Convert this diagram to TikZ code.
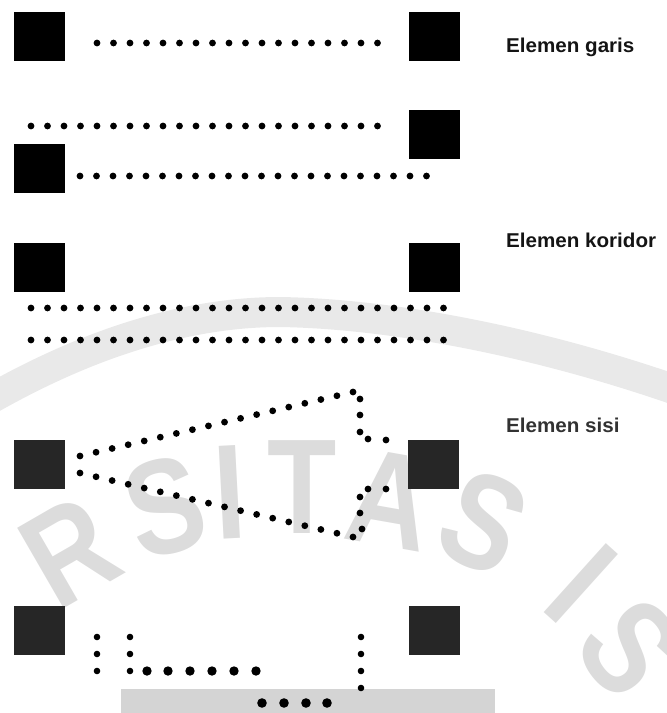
\documentclass[tikz,border=0pt]{standalone}
\usepackage{fontspec}
\newfontfamily\lblfont[FakeStretch=1.03]{Liberation Sans}
\newfontfamily\wmfont[FakeStretch=0.84]{Liberation Sans Bold}
\usetikzlibrary{calc}
\definecolor{wm}{RGB}{220,220,220}
\definecolor{wmband}{RGB}{233,233,233}
\definecolor{wmrect}{RGB}{212,212,212}
\definecolor{blkA}{RGB}{0,0,0}
\definecolor{blkB}{RGB}{38,38,38}
\definecolor{lblc}{RGB}{20,20,20}
\definecolor{lblg}{RGB}{50,50,50}
\tikzset{
  blk/.style={fill=blkA, draw=none, inner sep=0pt, minimum width=51pt, minimum height=49pt},
  blkg/.style={blk, fill=blkB},
  lbl/.style={anchor=base west, inner sep=0pt, text=lblc, font=\lblfont\bfseries\fontsize{20}{22}\selectfont},
  wmletter/.style={text=wm, inner sep=0pt, font=\wmfont\fontsize{135}{135}\selectfont},
  dotc/.style={fill=black},
}
\newcommand\dotline[4]{\foreach \i in {0,...,#3}{\fill[#4] ($(#1)!{\i/#3}!(#2)$) circle (3.4pt);}}
\begin{document}
\begin{tikzpicture}[x=1pt,y=-1pt]
\useasboundingbox (0,0) rectangle (667,713);
% ---- watermark ----
\begin{scope}
\clip (0,0) rectangle (667,713);
\draw[wmband, line width=30pt] (-20,405) .. controls (100,335) and (200,312) .. (280,312) .. controls (400,314) and (550,345) .. (690,395);
\node[wmletter, rotate=30] (wR) at (70,552) {R};
\node[wmletter, rotate=15] (wS1) at (165,507) {S};
\node[wmletter, rotate=3] (wI1) at (230,492) {I};
\node[wmletter] (wT) at (302,487) {T};
\node[wmletter, rotate=-10] (wA) at (390,500) {A};
\node[wmletter, rotate=-25] (wS2) at (483,522) {S};
\node[wmletter, rotate=-42] (wI2) at (581,584) {I};
\node[wmletter, rotate=-52] (wS3) at (630,648) {S};
\fill[wmrect] (121,689) rectangle (495,713);
\end{scope}
% ---- squares ----
\node[blk] (a1) at (39.5,36.5) {};
\node[blk] (b1) at (434.5,36.5) {};
\node[blk] (b2) at (434.5,134.5) {};
\node[blk] (a2) at (39.5,168) {};
\node[blk] (a3) at (39.5,267.5) {};
\node[blk] (b3) at (434.5,267.5) {};
\node[blkg] (a4) at (39.5,464.5) {};
\node[blkg] (b4) at (433.5,464.5) {};
\node[blkg] (a5) at (39.5,630) {};
\node[blkg] (b5) at (434.5,630) {};
% ---- labels ----
\node[lbl] (t1) at (506,52) {Elemen garis};
\node[lbl] (t2) at (506,247) {Elemen koridor};
\node[lbl, text=lblg] (t3) at (506,432) {Elemen sisi};
% ---- dotted lines ----
\coordinate (p1a) at (97,43);   \coordinate (p1b) at (377.5,43);
\coordinate (p2a) at (31,126);  \coordinate (p2b) at (377.5,126);
\coordinate (p3a) at (80,176);  \coordinate (p3b) at (426.5,176);
\coordinate (p4a) at (31,308);  \coordinate (p4b) at (443.5,308);
\coordinate (p5a) at (31,340);  \coordinate (p5b) at (443.5,340);
\coordinate (u0) at (80,456);   \coordinate (u1) at (353,392);
\coordinate (l0) at (80,473);   \coordinate (l1) at (353,537);
\dotline{p1a}{p1b}{17}{dotc}
\dotline{p2a}{p2b}{21}{dotc}
\dotline{p3a}{p3b}{21}{dotc}
\dotline{p4a}{p4b}{25}{dotc}
\dotline{p5a}{p5b}{25}{dotc}
\dotline{u0}{u1}{17}{dotc}
\dotline{l0}{l1}{17}{dotc}
\foreach \p in {(360,399),(360,415),(360,432),(368,439),(386,440),
                (362,529),(360,513),(360,497),(368,489),(386,489)}
  {\fill[dotc] \p circle (3.4pt);}
% ---- bottom group ----
\foreach \p in {(97,637),(97,654),(97,671),(130,637),(130,654),(130,671),
                (361,637),(361,654),(361,671),(361,688)}
  {\fill[dotc] \p circle (3.3pt);}
\foreach \x in {147,168,190,212,234,256}
  {\fill[dotc] (\x,671) circle (4.7pt);}
\foreach \x in {262,284,306,327}
  {\fill[dotc] (\x,703) circle (4.8pt);}
\end{tikzpicture}
\end{document}
